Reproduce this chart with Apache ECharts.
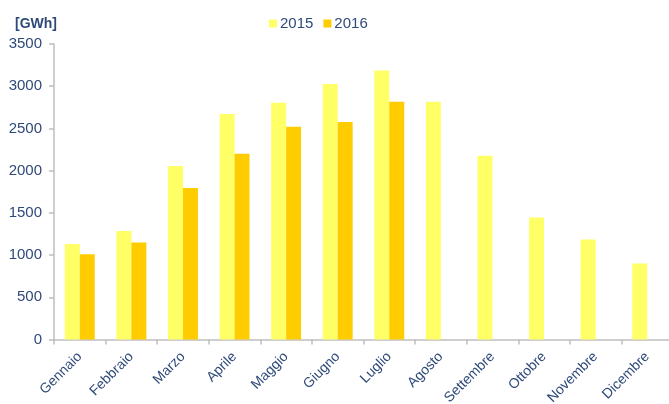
<!DOCTYPE html>
<html>
<head>
<meta charset="utf-8">
<script src="https://cdn.jsdelivr.net/npm/echarts@6/dist/echarts.min.js"></script>
<style>
  html, body { margin: 0; padding: 0; background: #fff; }
  #main { width: 669px; height: 404px; }
</style>
</head>
<body>
<div id="main"></div>
<script>
// dati mensili
var mesi = ['Gennaio', 'Febbraio', 'Marzo', 'Aprile', 'Maggio', 'Giugno', 'Luglio',
    'Agosto', 'Settembre', 'Ottobre', 'Novembre', 'Dicembre'];
var serie2015 = [1130, 1285, 2055, 2670, 2805, 3025, 3185, 2815, 2175, 1445, 1185, 900];
var serie2016 = [1010, 1150, 1795, 2200, 2520, 2575, 2815, null, null, null, null, null];
var yTicks = [0, 500, 1000, 1500, 2000, 2500, 3000, 3500];

var testo = '#2E4A7A';
var asse = '#BFBFBF';

var myChart = echarts.init(document.getElementById('main'));

option = {
    animation: false,
    textStyle: { fontFamily: 'Liberation Sans, Arial, sans-serif' },
    title: {
        text: '[GWh]',
        left: 10,
        top: 12,
        textStyle: { color: testo, fontSize: 14, fontWeight: 'bold' }
    },
    legend: {
        data: ['2015', '2016'],
        left: 264,
        top: 11,
        itemWidth: 8,
        itemHeight: 8,
        itemGap: 10,
        icon: 'rect',
        textStyle: { color: testo, fontSize: 15, padding: [0, 0, 0, -2] }
    },
    grid: {
        left: 54,
        top: 44,
        width: 619,
        bottom: 64.5,
        containLabel: false,
        outerBoundsMode: 'none'
    },
    xAxis: {
        type: 'category',
        data: mesi,
        axisLine: { lineStyle: { color: asse, width: 1.5 } },
        axisTick: { show: true, length: 5, lineStyle: { color: asse, width: 1.5 } },
        axisLabel: { rotate: 45, color: testo, fontSize: 14, margin: 15 },
        splitLine: { show: false }
    },
    yAxis: {
        type: 'value',
        min: yTicks[0],
        max: yTicks[yTicks.length - 1],
        interval: 500,
        axisLine: { show: true, lineStyle: { color: asse, width: 1.5 } },
        axisTick: { show: true, length: 5, lineStyle: { color: asse, width: 1.5 } },
        axisLabel: {
            color: testo, fontSize: 15, margin: 12,
            formatter: function(v) { return String(v); }
        },
        splitLine: { show: false }
    },
    series: [{
        name: '2015',
        type: 'bar',
        data: serie2015,
        barGap: '0%',
        barCategoryGap: '42%',
        itemStyle: { color: '#FFFF66' }
    }, {
        name: '2016',
        type: 'bar',
        data: serie2016,
        itemStyle: { color: '#FFCC00' }
    }]
};

myChart.setOption(option);
</script>
</body>
</html>
